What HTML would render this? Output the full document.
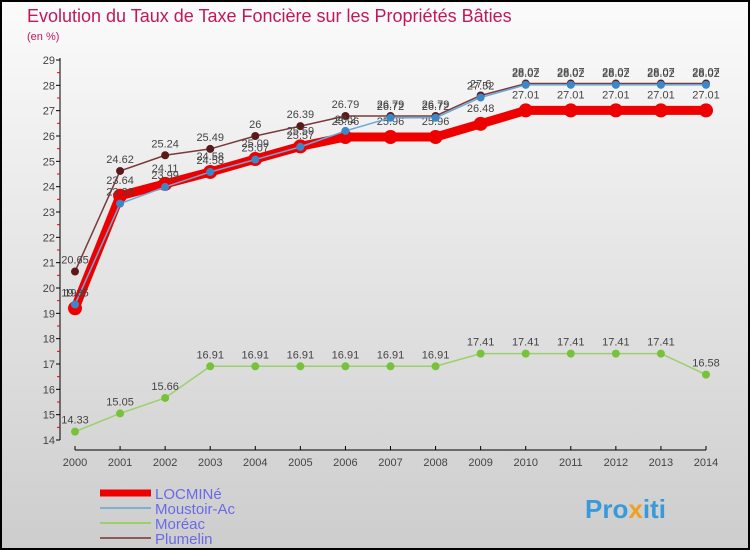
<!DOCTYPE html>
<html><head><meta charset="utf-8"><style>
body{margin:0;width:750px;height:550px;overflow:hidden}
svg{display:block;font-family:"Liberation Sans",sans-serif}
</style></head><body>
<svg id="c" width="750" height="550">
<defs><linearGradient id="bg" x1="0" y1="0" x2="0" y2="1"><stop offset="0" stop-color="#fbfbfb"/><stop offset="1" stop-color="#cdcdcd"/></linearGradient></defs>
<rect x="0" y="0" width="750" height="550" fill="#000"/>
<rect x="2" y="2" width="746" height="546" fill="url(#bg)"/>
<text x="27" y="22" font-size="18" fill="#c2185b">Evolution du Taux de Taxe Foncière sur les Propriétés Bâties</text>
<text x="27" y="40" font-size="11" fill="#c2185b">(en %)</text>
<g id="axes"></g><g id="series"></g><g id="legend"></g>
<text x="585" y="518" font-size="26" font-weight="bold" fill="#3a9ad9">Pro<tspan fill="#f0a020">x</tspan>iti</text>
</svg>
<script>
const years=[2000,2001,2002,2003,2004,2005,2006,2007,2008,2009,2010,2011,2012,2013,2014];
const yTicks=[14,15,16,17,18,19,20,21,22,23,24,25,26,27,28,29];
const names=["LOCMINé","Moustoir-Ac","Moréac","Plumelin"];
const locmine=[19.2,23.64,24.11,24.58,25.09,25.59,25.96,25.96,25.96,26.48,27.01,27.01,27.01,27.01,27.01];
const moustoir=[19.35,23.33,23.99,24.58,25.07,25.57,26.2,26.72,26.72,27.52,28.02,28.02,28.02,28.02,28.02];
const moreac=[14.33,15.05,15.66,16.91,16.91,16.91,16.91,16.91,16.91,17.41,17.41,17.41,17.41,17.41,16.58];
const plumelin=[20.65,24.62,25.24,25.49,26,26.39,26.79,26.79,26.79,27.6,28.07,28.07,28.07,28.07,28.07];
const NS="http://www.w3.org/2000/svg";
const X=i=>75+i*(706-75)/(years.length-1);
const Y=v=>440-(v-14)*(380/15);
function mk(t,a,p){const e=document.createElementNS(NS,t);for(const k in a)e.setAttribute(k,a[k]);p.appendChild(e);return e;}
const ax=document.getElementById('axes');
let l=mk('line',{x1:60,y1:58,x2:60,y2:440,stroke:'#000'},ax);


l=mk('line',{x1:75,y1:450,x2:706,y2:450,stroke:'#000'},ax);


yTicks.forEach(v=>{
 mk('line',{x1:56,y1:Y(v),x2:60,y2:Y(v),stroke:'#000'},ax);
 if(v<29)mk('line',{x1:57,y1:Y(v+0.5),x2:60,y2:Y(v+0.5),stroke:'#e00'},ax);
 const t=mk('text',{x:55,y:Y(v)+4,'font-size':11,'text-anchor':'end',fill:'#444'},ax);t.textContent=v;
 
 
});
years.forEach((y,i)=>{
 mk('line',{x1:X(i),y1:446,x2:X(i),y2:450,stroke:'#000'},ax);
 const t=mk('text',{x:X(i),y:466,'font-size':11,'text-anchor':'middle',fill:'#444'},ax);t.textContent=y;
 
 
});
const sg=document.getElementById('series');
const defs=[
 {d:moreac,c:'#9ad16b',w:1.5,r:4,f:'#77c23a',n:'moreac',dy:-8},
 {d:plumelin,c:'#7b3a3a',w:1.5,r:4,f:'#5a1a1a',n:'plumelin',dy:-8},
 {d:locmine,c:'#ee0000',w:9,r:7,f:'#ee0000',n:'locmine',dy:-12},
 {d:moustoir,c:'#6aa8d8',w:1.5,r:4,f:'#3a88c8',n:'moustoir-ac',dy:-8}
];
defs.forEach(s=>{
 const g=mk('g',{},sg);
 
 
 const p=mk('polyline',{points:s.d.map((v,i)=>X(i)+','+Y(v)).join(' '),fill:'none',stroke:s.c,'stroke-width':s.w,'stroke-linejoin':'round'},g);
 
 
 s.d.forEach((v,i)=>{
  const c=mk('circle',{cx:X(i),cy:Y(v),r:s.r,fill:s.f},g);
  
  
  const t=mk('text',{x:X(i),y:Y(v)+s.dy,'font-size':11,'text-anchor':'middle',fill:'#444'},g);t.textContent=v;
  
  
 });
});
const lg=document.getElementById('legend');
const lc=['#ee0000','#7fb0d0','#9ad16b','#8b5a5a'],lw=[7,2,2,2];
names.forEach((n,i)=>{
 const y=493+i*15;
 const ln=mk('line',{x1:100,y1:y,x2:151,y2:y,stroke:lc[i],'stroke-width':lw[i]},lg);
 
 
 const t=mk('text',{x:155,y:y+6,'font-size':15,fill:'#6a6ae8'},lg);t.textContent=n;
 
 
});
</script>
</body></html>
